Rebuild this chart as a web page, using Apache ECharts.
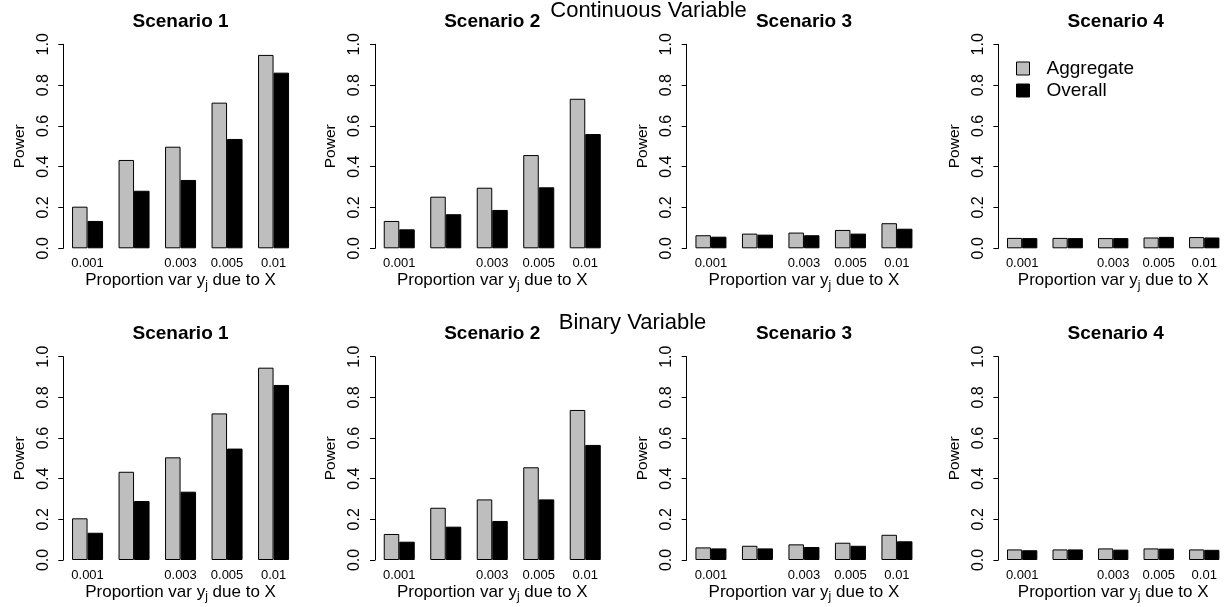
<!DOCTYPE html>
<html>
<head>
<meta charset="utf-8">
<script src="https://cdn.jsdelivr.net/npm/echarts@6/dist/echarts.min.js"></script>
<style>
  html, body { margin: 0; padding: 0; background: #ffffff; }
  #chart { width: 1227px; height: 607px; }
</style>
</head>
<body>
<div id="chart"></div>
<script>
// ---------------- data ----------------
const categories = ['0.001', '0.002', '0.003', '0.005', '0.01'];
const hiddenLabelIndex = [1]; // label dropped in the reference (overlap)
const seriesNames = ['Aggregate', 'Overall'];
const rowTitles = ['Continuous Variable', 'Binary Variable'];
const panelTitles = ['Scenario 1', 'Scenario 2', 'Scenario 3', 'Scenario 4'];
const yTicks = [0, 0.2, 0.4, 0.6, 0.8, 1.0];

const cont_s1_aggregate = [0.204, 0.433, 0.498, 0.714, 0.948];
const cont_s1_overall   = [0.134, 0.282, 0.335, 0.536, 0.861];
const cont_s2_aggregate = [0.134, 0.253, 0.297, 0.457, 0.733];
const cont_s2_overall   = [0.093, 0.167, 0.188, 0.299, 0.560];
const cont_s3_aggregate = [0.064, 0.072, 0.077, 0.090, 0.123];
const cont_s3_overall   = [0.057, 0.067, 0.064, 0.072, 0.096];
const cont_s4_aggregate = [0.051, 0.051, 0.050, 0.053, 0.055];
const cont_s4_overall   = [0.050, 0.050, 0.050, 0.056, 0.053];

const bin_s1_aggregate = [0.205, 0.434, 0.505, 0.721, 0.946];
const bin_s1_overall   = [0.134, 0.290, 0.336, 0.548, 0.861];
const bin_s2_aggregate = [0.128, 0.257, 0.298, 0.456, 0.738];
const bin_s2_overall   = [0.090, 0.164, 0.192, 0.298, 0.566];
const bin_s3_aggregate = [0.062, 0.070, 0.077, 0.085, 0.124];
const bin_s3_overall   = [0.057, 0.057, 0.064, 0.070, 0.092];
const bin_s4_aggregate = [0.052, 0.052, 0.057, 0.057, 0.052];
const bin_s4_overall   = [0.048, 0.052, 0.051, 0.056, 0.050];

const panels = [
  [[cont_s1_aggregate, cont_s1_overall], [cont_s2_aggregate, cont_s2_overall],
   [cont_s3_aggregate, cont_s3_overall], [cont_s4_aggregate, cont_s4_overall]],
  [[bin_s1_aggregate, bin_s1_overall], [bin_s2_aggregate, bin_s2_overall],
   [bin_s3_aggregate, bin_s3_overall], [bin_s4_aggregate, bin_s4_overall]]
];

// ---------------- layout / style ----------------
const FONT = '"Liberation Sans", Arial, Helvetica, sans-serif';
const colors = ['#BEBEBE', '#000000'];
const gridLefts = [64.3, 376.0, 687.7, 999.4];
const gridWidth = 232.5;
const rowTops = [44.3, 356.7];
const rowHeights = [204, 203.3];
const panelTitleTops = [12, 324];
const rowTitlePos = [{x: 648.5, top: 0}, {x: 632.5, top: 311.5}];

const grids = [], xAxes = [], yAxes = [], series = [], titles = [];
let idx = 0;
for (let r = 0; r < 2; r++) {
  titles.push({
    text: rowTitles[r], left: rowTitlePos[r].x, top: rowTitlePos[r].top, textAlign: 'center', padding: 0,
    textStyle: { fontFamily: FONT, fontSize: 22, fontWeight: 'normal', color: '#000' }
  });
  for (let c = 0; c < 4; c++) {
    grids.push({ left: gridLefts[c], top: rowTops[r], width: gridWidth, height: rowHeights[r], containLabel: false });
    titles.push({
      text: panelTitles[c], left: gridLefts[c] + gridWidth / 2, top: panelTitleTops[r], textAlign: 'center', padding: 0,
      textStyle: { fontFamily: FONT, fontSize: 19, fontWeight: 'bold', color: '#000' }
    });
    xAxes.push({
      type: 'category', gridIndex: idx, data: categories,
      axisLine: { show: false }, axisTick: { show: false }, splitLine: { show: false },
      axisLabel: {
        interval: 0, margin: 9, fontFamily: FONT, fontSize: 13, color: '#000',
        formatter: (v, i) => hiddenLabelIndex.includes(i) ? '' : v
      },
      name: '{a|Proportion var y}{s|j}{a| due to X}',
      nameLocation: 'middle', nameGap: 21,
      nameTextStyle: {
        fontFamily: FONT, color: '#000',
        rich: {
          a: { fontFamily: FONT, fontSize: 17, color: '#000' },
          s: { fontFamily: FONT, fontSize: 12, color: '#000', padding: [10, 0, 0, 0] }
        }
      }
    });
    yAxes.push({
      type: 'value', gridIndex: idx, min: 0, max: 1, interval: 0.2, offset: 1,
      axisLine: { show: true, lineStyle: { color: '#000', width: 1 } },
      axisTick: { show: true, length: 5, lineStyle: { color: '#000', width: 1 } },
      splitLine: { show: false },
      axisLabel: {
        rotate: 90, margin: 12, fontFamily: FONT, fontSize: 16, color: '#000',
        formatter: v => v.toFixed(1)
      },
      name: 'Power', nameLocation: 'middle', nameGap: 36,
      nameTextStyle: { fontFamily: FONT, fontSize: 15.5, color: '#000' }
    });
    for (let s = 0; s < 2; s++) {
      series.push({
        type: 'bar', name: seriesNames[s], xAxisIndex: idx, yAxisIndex: idx,
        data: panels[r][c][s], barGap: '0%', barCategoryGap: '33.33%',
        itemStyle: { color: colors[s], borderColor: '#000', borderWidth: 1 },
        silent: true, animation: false
      });
    }
    idx++;
  }
}

const chart = echarts.init(document.getElementById('chart'), null, { renderer: 'canvas' });
chart.setOption({
  backgroundColor: '#ffffff',
  animation: false,
  color: colors,
  title: titles,
  grid: grids,
  xAxis: xAxes,
  yAxis: yAxes,
  legend: {
    data: seriesNames, orient: 'vertical', left: 1016, top: 59,
    icon: 'rect', itemWidth: 13, itemHeight: 13, itemGap: 3, padding: 0,
    textStyle: { fontFamily: FONT, fontSize: 19, color: '#000', padding: [0, 0, 0, 12] },
    itemStyle: { borderColor: '#000', borderWidth: 1 },
    selectedMode: false
  },
  series: series
});
</script>
</body>
</html>
